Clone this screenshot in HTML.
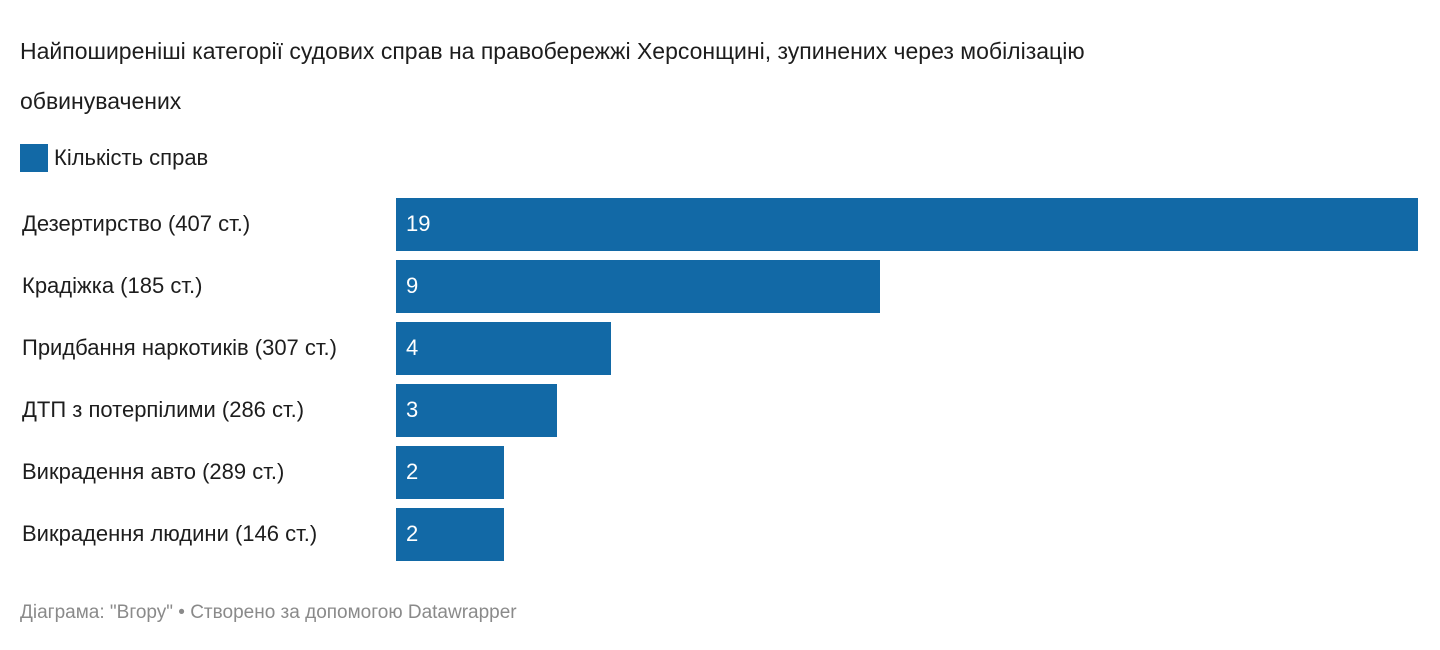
<!DOCTYPE html>
<html><head><meta charset="utf-8">
<style>
body{margin:0;background:#fff;font-family:"Liberation Sans",sans-serif;width:1440px;height:650px;overflow:hidden;position:relative;color:#1d1d1d}
.t{position:absolute;left:20px;font-size:23px;line-height:50px}
.lab{position:absolute;left:22px;font-size:22px;white-space:nowrap}
.bar{position:absolute;left:396px;background:#1269a6}
.val{position:absolute;left:406px;font-size:22px;color:#fff}
</style></head><body>
<div class="t" style="top:26px">Найпоширеніші категорії судових справ на правобережжі Херсонщині, зупинених через мобілізацію<br>обвинувачених</div>
<div style="position:absolute;left:20px;top:144px;height:28px;display:flex;align-items:center">
<span style="display:inline-block;width:28px;height:28px;background:#1269a6"></span>
<span style="font-size:22px;margin-left:6px">Кількість справ</span></div>
<div id="chart"></div>
<div style="position:absolute;left:20px;top:602px;font-size:19px;color:#8a8a8a">Діаграма: "Вгору" • Створено за допомогою Datawrapper</div>
<script>
const categories=["Дезертирство (407 ст.)","Крадіжка (185 ст.)","Придбання наркотиків (307 ст.)","ДТП з потерпілими (286 ст.)","Викрадення авто (289 ст.)","Викрадення людини (146 ст.)"];
const values=[19,9,4,3,2,2];
const maxV=Math.max(...values);
const x=v=>v*(1022/maxV);
const yTop=i=>198+i*62;
const c=document.getElementById('chart');
categories.forEach((cat,i)=>{
 const l=document.createElement('div');l.className='lab';
 
 
 l.textContent=cat;l.style.top=(yTop(i)+13)+'px';c.appendChild(l);
 const b=document.createElement('div');b.className='bar';
 
 
 b.style.top=yTop(i)+'px';b.style.height='53px';b.style.width=x(values[i])+'px';c.appendChild(b);
 const v=document.createElement('div');v.className='val';
 
 
 v.textContent=values[i];v.style.top=(yTop(i)+13)+'px';c.appendChild(v);
});
</script>
</body></html>
